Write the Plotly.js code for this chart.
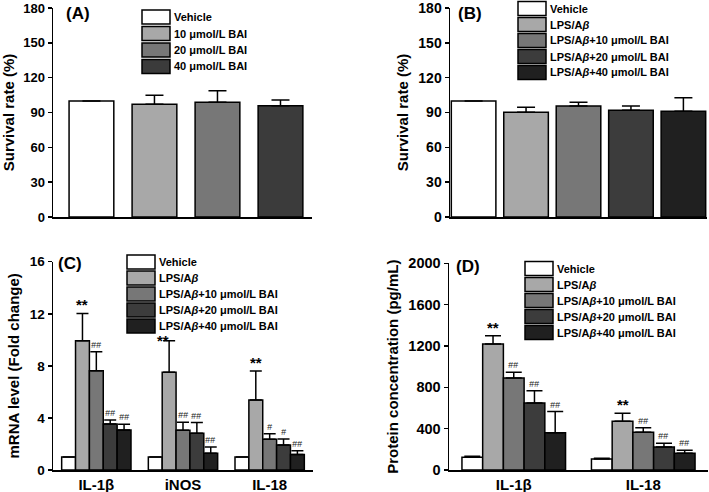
<!DOCTYPE html>
<html>
<head>
<meta charset="utf-8">
<script src="https://cdn.plot.ly/plotly-3.0.1.min.js"></script>
<style>html,body{margin:0;padding:0;background:#fff;}#chart{width:709px;height:492px;}</style>
</head>
<body>
<div id="chart"></div>
<script>
// ---------- DATA ----------
const groupsA = ["Vehicle", "10 μmol/L BAI", "20 μmol/L BAI", "40 μmol/L BAI"];
const meanA = [100, 97, 98.8, 95.9];
const sdA = [0, 7.8, 10, 4.9];

const groupsB = ["Vehicle", "LPS/A<i>β</i>", "LPS/A<i>β</i>+10 μmol/L BAI", "LPS/A<i>β</i>+20 μmol/L BAI", "LPS/A<i>β</i>+40 μmol/L BAI"];
const meanB = [100, 90.2, 95.6, 91.9, 91.0];
const sdB = [0, 4.3, 3.2, 3.7, 11.8];

const seriesNames = ["Vehicle", "LPS/A<i>β</i>", "LPS/A<i>β</i>+10 μmol/L BAI", "LPS/A<i>β</i>+20 μmol/L BAI", "LPS/A<i>β</i>+40 μmol/L BAI"];

const genesC = ["IL-1β", "iNOS", "IL-18"];
const meanC = [
  [1, 1, 1],
  [9.93, 7.5, 5.38],
  [7.63, 3.05, 2.36],
  [3.53, 2.82, 1.92],
  [3.07, 1.28, 1.2]
];
const sdC = [
  [0, 0, 0],
  [2.1, 2.43, 2.22],
  [1.46, 0.61, 0.43],
  [0.31, 0.82, 0.46],
  [0.44, 0.49, 0.28]
];
const marksC = [
  ["", "", ""],
  ["**", "**", "**"],
  ["##", "##", "#"],
  ["##", "##", "#"],
  ["##", "##", "##"]
];

const cytoD = ["IL-1β", "IL-18"];
const meanD = [
  [123, 106],
  [1219, 471],
  [890, 365],
  [648, 223],
  [361, 161]
];
const sdD = [
  [9, 7],
  [81, 77],
  [55, 45],
  [120, 35],
  [204, 29]
];
const marksD = [
  ["", ""],
  ["**", "**"],
  ["##", "##"],
  ["##", "##"],
  ["##", "##"]
];

const colorsA = ["#ffffff", "#a8a8a8", "#777777", "#3b3b3b"];
const colors5 = ["#ffffff", "#a8a8a8", "#777777", "#3c3c3c", "#202020"];

// ---------- STYLE ----------
const FONT = "Liberation Sans, Arial, sans-serif";
const W = 709, H = 492;
const px = v => v / W;
const py = v => 1 - v / H;
const outline = {color: "#000", width: 1.5};

function errY(sd, w) {
  return {type: "data", symmetric: false, array: sd, arrayminus: sd.map(() => 0),
          color: "#000", thickness: 1.5, width: w};
}

const traces = [];
// Panel A
traces.push({type: "bar", x: groupsA, y: meanA, xaxis: "x", yaxis: "y", width: 0.71,
  marker: {color: colorsA, line: outline}, error_y: errY(sdA, 9), showlegend: false, hoverinfo: "y"});
// Panel B
traces.push({type: "bar", x: groupsB, y: meanB, xaxis: "x2", yaxis: "y2", width: 0.85,
  marker: {color: colors5, line: outline}, error_y: errY(sdB, 9), showlegend: false, hoverinfo: "y"});
// Panel C
seriesNames.forEach((n, j) => {
  traces.push({type: "bar", name: n, x: genesC, y: meanC[j], xaxis: "x3", yaxis: "y3",
    marker: {color: colors5[j], line: outline}, error_y: errY(sdC[j], 6), showlegend: false});
});
// Panel D
seriesNames.forEach((n, j) => {
  traces.push({type: "bar", name: n, x: cytoD, y: meanD[j], xaxis: "x4", yaxis: "y4",
    marker: {color: colors5[j], line: outline}, error_y: errY(sdD[j], 8), showlegend: false});
});

function yax(domain, range, dtick, title, anchor, tsize, standoff) {
  return {domain: domain, range: range, dtick: dtick, anchor: anchor,
    showline: true, linecolor: "#000", linewidth: 1.5, ticks: "outside", ticklen: 4, tickwidth: 1.5,
    tickcolor: "#000", showgrid: false, zeroline: false, fixedrange: true, ticklabeloverflow: "allow",
    tickfont: {family: FONT, size: tsize, weight: 700, color: "#000"},
    title: {text: title, font: {family: FONT, size: 15, weight: 700, color: "#000"}, standoff: standoff}};
}
function xax(domain, range, showLabels, anchor) {
  return {domain: domain, range: range, anchor: anchor, type: "category",
    showline: true, linecolor: "#000", linewidth: 1.5, ticks: "", showgrid: false, zeroline: false,
    showticklabels: showLabels, fixedrange: true, ticklabeloverflow: "allow",
    tickfont: {family: FONT, size: 15, weight: 700, color: "#000"}};
}

const annotations = [];
const shapes = [];

// panel labels
[["(A)", 64, 14], ["(B)", 456, 14], ["(C)", 56, 263], ["(D)", 454, 266]].forEach(([t, x, y]) => {
  annotations.push({text: t, xref: "paper", yref: "paper", x: px(x), y: py(y), xanchor: "left", yanchor: "middle",
    showarrow: false, font: {family: FONT, size: 17, weight: 700, color: "#000"}});
});

// significance marks (iNOS "**" in C sits beside its error cap in the original)
const markNudge = {"x3|1|1": {xshift: -6, yshift: 0, yanchor: "middle"}};
function addMarks(marks, means, sds, xa, ya, nGroups) {
  const nS = marks.length, gw = 0.8, bw = gw / nS;
  for (let j = 0; j < nS; j++) {
    for (let i = 0; i < nGroups; i++) {
      const m = marks[j][i];
      if (!m) continue;
      const star = m === "**";
      const nudge = markNudge[xa + "|" + j + "|" + i] || {xshift: 0, yshift: star ? -2 : 0, yanchor: "bottom"};
      annotations.push({text: m, xref: xa, yref: ya, x: i - gw / 2 + bw * (j + 0.5), y: means[j][i] + sds[j][i],
        xanchor: "center", yanchor: nudge.yanchor, yshift: nudge.yshift, xshift: nudge.xshift, showarrow: false,
        font: star ? {family: FONT, size: 15, weight: 700, color: "#000"}
                   : {family: FONT, size: 9, style: "italic", color: "#222"}});
    }
  }
}
addMarks(marksC, meanC, sdC, "x3", "y3", genesC.length);
addMarks(marksD, meanD, sdD, "x4", "y4", cytoD.length);

// custom legends
function addLegend(names, colors, x0, yRows) {
  names.forEach((n, k) => {
    const yc = yRows[k];
    shapes.push({type: "rect", xref: "paper", yref: "paper", x0: px(x0), x1: px(x0 + 28),
      y0: py(yc + 7), y1: py(yc - 7), fillcolor: colors[k], line: {color: "#000", width: 1.5}});
    annotations.push({text: n, xref: "paper", yref: "paper", x: px(x0 + 30), y: py(yc),
      xanchor: "left", yanchor: "middle", showarrow: false,
      font: {family: FONT, size: 11, weight: 700, color: "#000"}});
  });
}
addLegend(groupsA, colorsA, 142, [17, 33.5, 50, 66.5]);
addLegend(groupsB, colors5, 518, [8.5, 24.5, 40.5, 56.5, 72.5]);
addLegend(seriesNames, colors5, 127, [262, 278, 294, 310, 326]);
addLegend(seriesNames, colors5, 525, [268.5, 284.5, 300.5, 316.5, 332.5]);

const layout = {
  width: W, height: H, margin: {l: 0, r: 0, t: 0, b: 0}, paper_bgcolor: "#fff", plot_bgcolor: "#fff",
  barmode: "group", bargap: 0.2, bargroupgap: 0, showlegend: false,
  font: {family: FONT, color: "#000"},
  xaxis: xax([px(53), px(312)], [-0.61, 3.5], false, "y"),
  yaxis: yax([py(217), py(8)], [0, 180], 30, "Survival rate (%)", "x", 13, 6),
  xaxis2: xax([px(450), px(707)], [-0.45, 4.45], false, "y2"),
  yaxis2: yax([py(217), py(8)], [0, 180], 30, "Survival rate (%)", "x2", 14, 6),
  xaxis3: xax([px(53), px(313)], [-0.5, 2.5], true, "y3"),
  yaxis3: yax([py(470), py(261.7)], [0, 16], 4, "mRNA level (Fold change)", "x3", 13.5, 6),
  xaxis4: xax([px(449), px(708)], [-0.5, 1.5], true, "y4"),
  yaxis4: yax([py(470), py(263.3)], [0, 2000], 400, "Protein concentration (pg/mL)", "x4", 14.5, 6),
  annotations: annotations, shapes: shapes
};

Plotly.newPlot("chart", traces, layout, {displayModeBar: false, staticPlot: true});
</script>
</body>
</html>
